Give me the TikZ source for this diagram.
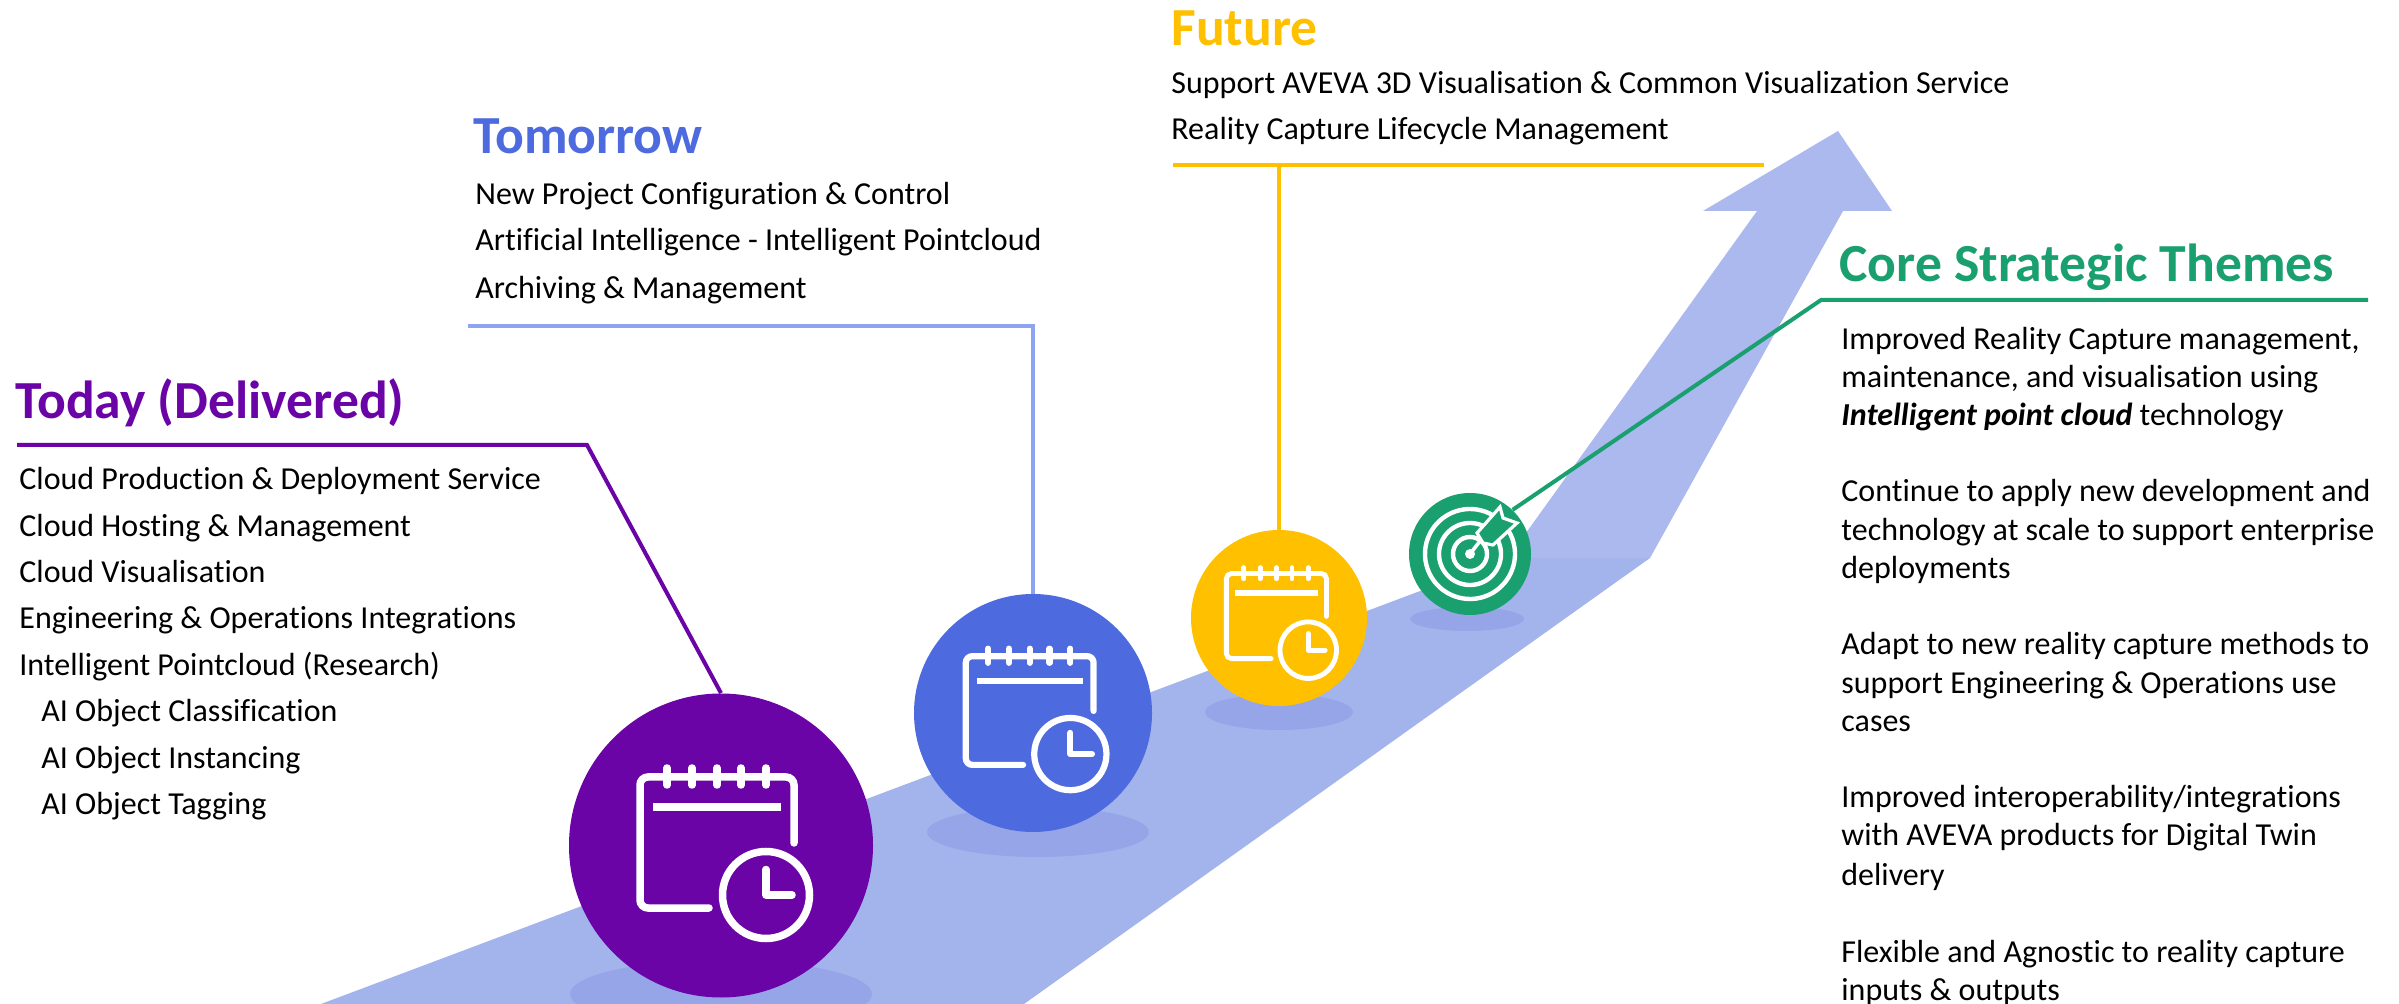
\documentclass[tikz,border=0pt]{standalone}
\usepackage{fontspec}
\setmainfont[Ligatures=NoCommon]{Carlito}
\definecolor{cpurple}{HTML}{6A04A6}
\definecolor{cblue}{HTML}{4D6BDF}
\definecolor{cyellow}{HTML}{FFC000}
\definecolor{cgreen}{HTML}{1AA06F}
\definecolor{cline}{HTML}{8FA4F0}
\definecolor{cband}{HTML}{A3B4EC}
\definecolor{carrow}{HTML}{ABB9EF}
\definecolor{cshadow}{HTML}{96A5E8}
\tikzset{
  body/.style={anchor=base west,inner sep=0pt,font=\fontsize{16pt}{18pt}\selectfont,text=black},
  head/.style={anchor=base west,inner sep=0pt,font=\fontsize{26.8pt}{30pt}\selectfont\bfseries},
  disc/.style={circle,inner sep=0pt,draw=none},
  conn/.style={line width=2pt,line join=miter},
  shadow/.style={fill=cshadow,draw=none}
}
\newcommand\calicon[2]{%
 \begin{scope}[shift={(#1.center)},x=#2*0.5pt,y=-#2*0.5pt,white,line width=#2*3.75pt,line cap=round]
  \draw[rounded corners=#2*4pt] (-12,62.5) -- (-81,62.5) -- (-81,-68.5) -- (73,-68.5) -- (73,-2.5);
  \foreach \r in {-54,-29,-4,20,45} \draw (\r,-77.5) -- (\r,-60.5);
  \draw[line cap=butt,line width=#2*4pt] (-68,-38.5) -- (60,-38.5);
  \draw (45,49.5) circle[radius=43.5];
  \draw[line join=round] (45,24) -- (45,49.5) -- (71,49.5);
 \end{scope}}
\begin{document}
\begin{tikzpicture}[x=0.5pt,y=-0.5pt]
\useasboundingbox (0,0) rectangle (2399,1004);
\fill[white] (0,0) rectangle (2399,1004);
% arrow and road
\fill[carrow] (1508,558) -- (1757,211) -- (1703,211) -- (1838,131) -- (1892,211) -- (1843,211) -- (1650,558) -- cycle;
\fill[cband] (321,1004) -- (1508,558) -- (1650,558) -- (1024,1004) -- cycle;
% shadows
\fill[shadow] (721,994) ellipse[x radius=151,y radius=34];
\fill[shadow] (1038,832) ellipse[x radius=111,y radius=25];
\fill[shadow] (1279,712) ellipse[x radius=74,y radius=18];
\fill[shadow] (1467,619) ellipse[x radius=57,y radius=12];
% discs
\node[disc,fill=cpurple,minimum size=152pt] (pdisc) at (721,845.5) {};
\node[disc,fill=cblue,minimum size=119pt] (bdisc) at (1033,713) {};
\node[disc,fill=cyellow,minimum size=88pt] (ydisc) at (1279,618) {};
\node[disc,fill=cgreen,minimum size=61pt] (gdisc) at (1470,554) {};
\calicon{pdisc}{1}
\calicon{bdisc}{0.83}
\calicon{ydisc}{0.65}
% target icon
\begin{scope}[shift={(gdisc.center)},white,line width=2.2pt,line cap=round]
  \draw (65:45) arc[start angle=65,end angle=-336,radius=45];
  \draw (75:31) arc[start angle=75,end angle=-345,radius=31];
  \draw (90:17) arc[start angle=90,end angle=-360,radius=17];
\end{scope}
\coordinate (shaftend) at (1480,541);
\fill[white] (gdisc.center) circle[radius=5];
\draw[white,line width=1.8pt] (gdisc.center) -- (shaftend);
\draw[white,fill=cgreen,line width=1.6pt,line join=miter] (1477,533) -- (1500,507) -- (1503,518) -- (1517,523) -- (1493,545) -- (1483,543) -- cycle;
% connectors
\coordinate (t1) at (17,445); \coordinate (t2) at (587,445);
\draw[conn,cpurple] (t1) -- (t2) -- (pdisc.north);
\coordinate (m1) at (468,326); \coordinate (m2) at (1033,326);
\draw[conn,cline] (m1) -- (m2) -- (bdisc);
\coordinate (f1) at (1173,165); \coordinate (f2) at (1764,165); \coordinate (f3) at (1279,165);
\draw[conn,cyellow] (f1) -- (f2);
\draw[conn,cyellow] (f3) -- (ydisc);
\coordinate (c1) at (2368,300); \coordinate (c2) at (1821,300);
\draw[conn,cgreen] (c1) -- (c2) -- (gdisc.46);
% headings
\node[head,text=cpurple] (h1) at (15,419) {Today (Delivered)};
\node[head,text=cblue] (h2) at (473,154) {Tomorrow};
\node[head,text=cyellow] (h3) at (1171,46) {Future};
\node[head,text=cgreen] (h4) at (1839,282) {Core Strategic Themes};
% today
\node[body] (a1) at (19,490) {Cloud Production \& Deployment Service};
\node[body] (a2) at (19,536.5) {Cloud Hosting \& Management};
\node[body] (a3) at (19,583) {Cloud Visualisation};
\node[body] (a4) at (19,629) {Engineering \& Operations Integrations};
\node[body] (a5) at (19,676) {Intelligent Pointcloud (Research)};
\node[body] (a6) at (41,722) {AI Object Classification};
\node[body] (a7) at (41,769) {AI Object Instancing};
\node[body] (a8) at (41,815) {AI Object Tagging};
% tomorrow
\node[body] (b1) at (475,205) {New Project Configuration \& Control};
\node[body] (b2) at (475,251) {Artificial Intelligence - Intelligent Pointcloud};
\node[body] (b3) at (475,299) {Archiving \& Management};
% future
\node[body] (c1t) at (1171,94) {Support AVEVA 3D Visualisation \& Common Visualization Service};
\node[body] (c2t) at (1171,140) {Reality Capture Lifecycle Management};
% core
\node[body] (d1) at (1841,350) {Improved Reality Capture management,};
\node[body] (d2) at (1841,388) {maintenance, and visualisation using};
\node[body] (d3) at (1841,426) {\textbf{\textit{Intelligent point cloud}} technology};
\node[body] (d4) at (1841,502) {Continue to apply new development and};
\node[body] (d5) at (1841,541) {technology at scale to support enterprise};
\node[body] (d6) at (1841,579) {deployments};
\node[body] (d7) at (1841,655) {Adapt to new reality capture methods to};
\node[body] (d8) at (1841,694) {support Engineering \& Operations use};
\node[body] (d9) at (1841,732) {cases};
\node[body] (d10) at (1841,808) {Improved interoperability/integrations};
\node[body] (d11) at (1841,846) {with AVEVA products for Digital Twin};
\node[body] (d12) at (1841,885) {delivery};
\node[body] (d13) at (1841,962) {Flexible and Agnostic to reality capture};
\node[body] (d14) at (1841,1000) {inputs \& outputs};
\end{tikzpicture}
\end{document}
